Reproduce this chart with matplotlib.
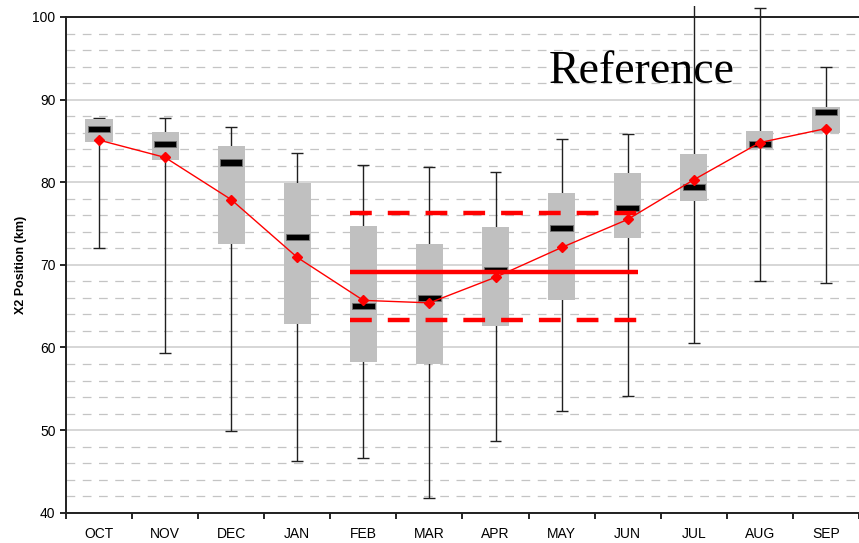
import matplotlib
matplotlib.use("Agg")
import matplotlib.pyplot as plt
import numpy as np
from matplotlib.patches import Rectangle
from matplotlib.ticker import MultipleLocator

# monthly X2 position statistics (km)
months = ['OCT', 'NOV', 'DEC', 'JAN', 'FEB', 'MAR', 'APR', 'MAY', 'JUN', 'JUL', 'AUG', 'SEP']
x2_min = [72.0, 59.3, 49.9, 46.2, 46.6, 41.8, 48.7, 52.3, 54.1, 60.5, 68.0, 67.8]
x2_q1 = [84.9, 82.7, 72.5, 62.8, 58.2, 58.0, 62.6, 65.7, 73.2, 77.7, 84.0, 85.9]
x2_median = [86.4, 84.6, 82.4, 73.4, 65.0, 66.0, 69.4, 74.5, 76.9, 79.4, 84.6, 88.5]
x2_q3 = [87.7, 86.1, 84.4, 79.9, 74.7, 72.5, 74.6, 78.7, 81.1, 83.4, 86.2, 89.1]
x2_max = [87.8, 87.8, 86.7, 83.5, 82.1, 81.8, 81.2, 85.2, 85.8, 102.0, 101.1, 94.0]
x2_mean = [85.1, 83.0, 77.9, 70.9, 65.7, 65.4, 68.5, 72.1, 75.5, 80.3, 84.8, 86.5]

# reference band (FEB-JUN)
ref_level = 69.1
ref_upper = 76.3
ref_lower = 63.3

x = np.arange(len(months))

fig = plt.figure(figsize=(8.59, 5.43), dpi=100)
ax = fig.add_axes([0.0768, 0.0558, 0.9232, 0.9129])

ax.set_xlim(-0.5, 11.5)
ax.set_ylim(40, 100)

# grid
ax.yaxis.set_major_locator(MultipleLocator(10))
ax.yaxis.set_minor_locator(MultipleLocator(2))
ax.grid(which='major', axis='y', color='#d0d0d0', lw=1.2, ls='-', zorder=0)
ax.grid(which='minor', axis='y', color='#c4c4c4', lw=0.9, ls=(0, (7, 6)), zorder=0)
ax.set_axisbelow(True)

# whiskers (allowed to run above the plot top)
clip = Rectangle((-0.5, 38), 12, 63.3, transform=ax.transData)
wh = ax.vlines(x, x2_min, x2_max, color='#202020', lw=1.0, zorder=2)
caps_hi = ax.hlines(x2_max, x - 0.09, x + 0.09, color='#202020', lw=1.0, zorder=2)
caps_lo = ax.hlines(x2_min, x - 0.09, x + 0.09, color='#202020', lw=1.0, zorder=2)
for art in (wh, caps_hi, caps_lo):
    art.set_clip_path(clip)

# boxes
q1 = np.array(x2_q1)
q3 = np.array(x2_q3)
ax.bar(x, q3 - q1, bottom=q1, width=0.41, color='#c0c0c0', zorder=3)

# medians
med = np.array(x2_median)
ax.bar(x, 0.75, bottom=med - 0.375, width=0.34, color='black',
       edgecolor='#707070', lw=0.6, zorder=4)

# reference lines
ax.hlines(ref_level, 3.8, 8.16, color='red', lw=3.2, zorder=5)
ax.hlines([ref_upper, ref_lower], 3.8, 8.16, color='red', lw=3.2,
          linestyles=(0, (4.9, 3.6)), zorder=5)

# means
ax.plot(x, x2_mean, color='red', lw=1.0, marker='D', ms=5, zorder=6)

ax.text(6.8, 92.0, 'Reference', family='Liberation Serif', fontsize=33,
        va='baseline', ha='left', zorder=7)

# axes styling
ax.set_xticks(x)
ax.set_xticklabels(months, family='Liberation Sans', fontsize=10)
ax.set_xticks(np.arange(-0.5, 12, 1), minor=True)
ax.tick_params(axis='x', which='major', length=0, pad=10)
ax.tick_params(axis='x', which='minor', length=4, width=1.2, direction='out')
ax.tick_params(axis='y', which='major', length=4, width=1.2, direction='out',
               labelsize=10)
ax.tick_params(axis='y', which='minor', length=0)
for lab in ax.get_yticklabels():
    lab.set_family('Liberation Sans')

for side in ['left', 'bottom', 'top']:
    ax.spines[side].set_color('#202020')
    ax.spines[side].set_linewidth(1.4)
ax.spines['right'].set_visible(False)

ax.set_ylabel('X2 Position (km)', family='Liberation Sans', fontsize=9,
              fontweight='bold', labelpad=4)

fig.savefig('out.png', dpi=100)
